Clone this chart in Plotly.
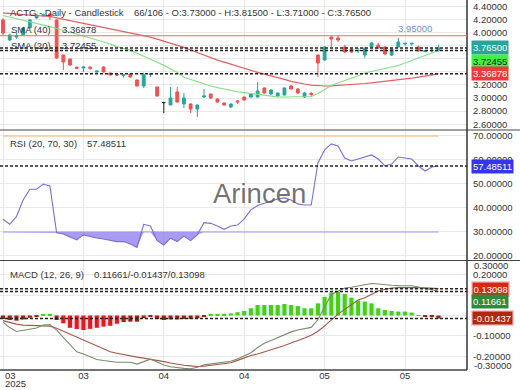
import plotly.graph_objects as go

# ---------------- data ----------------
idx = list(range(66))

opens = [4.191, 3.885, 3.93, 3.962, 4.069, 4.221, 4.26, 4.282, 4.191, 3.656,
         3.595, 3.47, 3.458, 3.47, 3.395, 3.473, 3.382, 3.366, 3.345, 3.366,
         3.275, 3.183, 3.36, 3.168, 2.93, 2.893, 3.092, 2.908, 2.908, 2.832,
         3.015, 3.061, 2.985, 2.924, 2.863, 2.955, 3.015, 3.015, 3.015, 3.153,
         3.061, 3.031, 3.046, 3.183, 3.137, 3.015, 3.07, 3.656, 3.58, 3.931,
         3.916, 3.779, 3.748, 3.72, 3.656, 3.779, 3.809, 3.779, 3.656, 3.779,
         3.825, 3.825, 3.779, 3.71, 3.72, 3.73]
highs = [4.22, 3.98, 4.0, 4.08, 4.20, 4.28, 4.29, 4.30, 4.20, 3.66,
         3.60, 3.48, 3.48, 3.49, 3.42, 3.48, 3.385, 3.37, 3.36, 3.37,
         3.28, 3.386, 3.382, 3.17, 2.93, 3.168, 3.168, 3.076, 2.92, 2.90,
         3.137, 3.07, 2.99, 2.93, 2.915, 2.97, 3.02, 3.076, 3.244, 3.16,
         3.13, 3.08, 3.16, 3.20, 3.15, 3.09, 3.09, 3.66, 3.79, 3.94,
         3.95, 3.81, 3.755, 3.763, 3.77, 3.855, 3.84, 3.79, 3.76, 3.916,
         3.84, 3.84, 3.80, 3.73, 3.78, 3.815]
lows = [3.96, 3.87, 3.90, 3.95, 4.06, 4.21, 4.24, 4.19, 3.60, 3.427,
        3.49, 3.44, 3.397, 3.43, 3.39, 3.39, 3.345, 3.345, 3.31, 3.31,
        3.18, 3.153, 3.321, 3.02, 2.77, 2.89, 2.93, 2.847, 2.771, 2.71,
        3.0, 2.99, 2.93, 2.885, 2.85, 2.91, 2.96, 3.0, 3.01, 3.07,
        3.05, 3.02, 3.04, 3.13, 3.07, 3.0, 3.02, 3.321, 3.57, 3.779,
        3.855, 3.687, 3.69, 3.687, 3.611, 3.77, 3.75, 3.66, 3.64, 3.77,
        3.80, 3.80, 3.71, 3.70, 3.70, 3.71]
closes = [3.992, 3.962, 3.95, 4.069, 4.191, 4.267, 4.27, 4.237, 3.611, 3.55,
          3.504, 3.455, 3.473, 3.455, 3.41, 3.397, 3.351, 3.351, 3.35, 3.321,
          3.183, 3.351, 3.37, 3.031, 2.93, 3.0, 2.939, 3.0, 2.832, 2.893,
          3.031, 3.0, 2.939, 2.893, 2.908, 2.94, 2.969, 3.061, 3.107, 3.076,
          3.122, 3.076, 3.153, 3.137, 3.076, 3.076, 3.055, 3.534, 3.779, 3.90,
          3.885, 3.702, 3.702, 3.725, 3.763, 3.84, 3.763, 3.672, 3.748, 3.855,
          3.835, 3.835, 3.718, 3.72, 3.73, 3.765]

sma20 = [4.26, 4.237, 4.214, 4.191, 4.168, 4.145, 4.115, 4.089, 4.061, 4.034,
         4.008, 3.977, 3.947, 3.916, 3.885, 3.855, 3.824, 3.782, 3.751, 3.731,
         3.684, 3.641, 3.595, 3.547, 3.498, 3.449, 3.389, 3.316, 3.282, 3.247,
         3.212, 3.183, 3.159, 3.136, 3.113, 3.095, 3.081, 3.067, 3.053, 3.038,
         3.029, 3.018, 3.015, 3.015, 3.015, 3.015, 3.023, 3.069, 3.13, 3.191,
         3.229, 3.264, 3.304, 3.339, 3.382, 3.402, 3.426, 3.449, 3.473, 3.497,
         3.535, 3.573, 3.611, 3.649, 3.687, 3.72455]
sma40 = [4.298, 4.287, 4.279, 4.273, 4.266, 4.258, 4.252, 4.244, 4.223, 4.202,
         4.18, 4.159, 4.137, 4.116, 4.095, 4.075, 4.055, 4.037, 4.017, 3.998,
         3.979, 3.959, 3.93, 3.899, 3.869, 3.837, 3.806, 3.773, 3.733, 3.693,
         3.653, 3.614, 3.579, 3.547, 3.515, 3.479, 3.453, 3.417, 3.391, 3.365,
         3.34, 3.315, 3.284, 3.253, 3.229, 3.214, 3.197, 3.189, 3.183, 3.186,
         3.191, 3.195, 3.2, 3.21, 3.221, 3.231, 3.241, 3.252, 3.263, 3.272,
         3.287, 3.302, 3.319, 3.336, 3.354, 3.36878]

rsi = [35.3, 33.2, 36.4, 43.3, 47.8, 47.8, 50.0, 49.2, 29.7, 29.2,
       27.9, 26.7, 28.8, 28.1, 27.5, 27.1, 26.5, 26.0, 26.0, 25.0,
       23.6, 33.2, 32.5, 26.4, 24.6, 27.4, 26.0, 28.3, 26.4, 28.8,
       33.9, 33.6, 32.5, 31.1, 32.5, 32.9, 35.5, 39.2, 41.0, 42.1,
       42.9, 43.75, 44.2, 43.3, 41.7, 41.25, 41.25, 58.75, 64.2, 66.7,
       65.8, 60.8, 59.6, 60.4, 61.25, 62.1, 60.4, 57.5, 58.3, 61.25,
       60.8, 60.4, 57.5, 55.4, 57.1, 57.48511]

macd = [-0.032, -0.059, -0.078, -0.073, -0.068, -0.061, -0.046, -0.044, -0.071, -0.107,
        -0.141, -0.177, -0.188, -0.200, -0.215, -0.220, -0.225, -0.228, -0.228, -0.228,
        -0.237, -0.224, -0.213, -0.227, -0.242, -0.250, -0.255, -0.258, -0.260, -0.253,
        -0.241, -0.237, -0.233, -0.228, -0.223, -0.212, -0.197, -0.182, -0.156, -0.136,
        -0.122, -0.109, -0.094, -0.080, -0.071, -0.065, -0.058, -0.021, 0.039, 0.103,
        0.118, 0.134, 0.138, 0.144, 0.150, 0.156, 0.154, 0.150, 0.148, 0.146,
        0.145, 0.145, 0.139, 0.131, 0.127, 0.11661]
signal = [-0.025, -0.034, -0.042, -0.047, -0.048, -0.049, -0.049, -0.052, -0.062, -0.076,
          -0.091, -0.105, -0.120, -0.134, -0.148, -0.162, -0.177, -0.184, -0.191, -0.198,
          -0.203, -0.208, -0.213, -0.219, -0.225, -0.232, -0.239, -0.243, -0.246, -0.249,
          -0.248, -0.244, -0.241, -0.236, -0.231, -0.219, -0.207, -0.195, -0.188, -0.178,
          -0.167, -0.157, -0.146, -0.134, -0.123, -0.110, -0.096, -0.077, -0.051, -0.021,
          0.007, 0.030, 0.053, 0.076, 0.087, 0.103, 0.120, 0.127, 0.134, 0.136,
          0.137, 0.137, 0.136, 0.135, 0.133, 0.13098]
hist = [-0.017, -0.022, -0.025, -0.019, -0.011, -0.005, 0.004, 0.006, -0.022, -0.038,
        -0.060, -0.066, -0.071, -0.065, -0.060, -0.054, -0.050, -0.040, -0.032, -0.030,
        -0.030, -0.013, -0.005, -0.017, -0.022, -0.019, -0.019, -0.017, -0.017, -0.014,
        -0.008, 0.005, 0.006, 0.008, 0.010, 0.016, 0.022, 0.035, 0.051, 0.051,
        0.051, 0.051, 0.056, 0.051, 0.046, 0.035, 0.035, 0.059, 0.091, 0.112,
        0.116, 0.105, 0.087, 0.073, 0.068, 0.059, 0.035, 0.027, 0.022, 0.019,
        0.019, 0.014, 0.002, -0.005, -0.008, -0.01437]

resistance_level = 3.95
rsi_levels = [70, 30]
rsi_params = "(20, 70, 30)"
macd_params = "(12, 26, 9)"

x_tick_idx = [0, 12, 24, 36, 48, 60]
x_tick_text = ["03", "03", "04", "04", "05", "05"]
first_year = "2025"
price_ticks = [2.6, 2.8, 3.0, 3.2, 3.4, 3.6, 3.8, 4.0, 4.2, 4.4]
rsi_ticks = [20, 30, 40, 50, 60, 70]
macd_ticks = [-0.2, -0.1, 0.0, 0.1, 0.2]
macd_edge_ticks = [0.3, -0.3]

symbol = "ACTG"
bar_no, bar_total = 66, 106

# ---------------- geometry ----------------
W, H = 520, 390
ML, MR, MT, MB = 0, 53, 0, 20
PW = W - ML - MR
PH = H - MT - MB
FONT = "Liberation Sans, Arial, sans-serif"
FS = 9.5
TXT = "#333333"
GRID = "#e8e8e8"
STRONG_NEG = -0.035


def px(x):
    return x / PW


def py(y):
    return (PH - y) / PH


PRICE_DOM = [py(130), 1.0]
RSI_DOM = [py(260), py(131)]
MACD_DOM = [0.0, py(261)]

fig = go.Figure()

# ---------------- price panel ----------------
normal = [i for i in idx if opens[i] != closes[i]]
flat = [i for i in idx if opens[i] == closes[i]]

fig.add_trace(go.Scatter(x=idx, y=sma40, mode="lines", line=dict(color="#e06262", width=1.2),
                         xaxis="x", yaxis="y", hoverinfo="skip"))
fig.add_trace(go.Scatter(x=idx, y=sma20, mode="lines", line=dict(color="#86e086", width=1.2),
                         xaxis="x", yaxis="y", hoverinfo="skip"))
fig.add_trace(go.Candlestick(
    x=[idx[i] for i in normal], open=[opens[i] for i in normal], high=[highs[i] for i in normal],
    low=[lows[i] for i in normal], close=[closes[i] for i in normal],
    increasing=dict(line=dict(color="#26a69a", width=1), fillcolor="#26a69a"),
    decreasing=dict(line=dict(color="#ef5350", width=1), fillcolor="#ef5350"),
    whiskerwidth=0, xaxis="x", yaxis="y"))
if flat:
    fig.add_trace(go.Candlestick(
        x=[idx[i] for i in flat], open=[opens[i] for i in flat], high=[highs[i] for i in flat],
        low=[lows[i] for i in flat], close=[closes[i] for i in flat],
        increasing=dict(line=dict(color="#222222", width=1), fillcolor="#222222"),
        decreasing=dict(line=dict(color="#222222", width=1), fillcolor="#222222"),
        whiskerwidth=0, xaxis="x", yaxis="y"))

# ---------------- RSI panel ----------------
rsi_low = [min(v, rsi_levels[1]) for v in rsi]
fig.add_trace(go.Scatter(x=idx, y=[rsi_levels[1]] * len(idx), mode="lines",
                         line=dict(color="#a294f2", width=1.2), xaxis="x2", yaxis="y2", hoverinfo="skip"))
fig.add_trace(go.Scatter(x=idx, y=rsi_low, mode="lines", line=dict(width=0), fill="tonexty",
                         fillcolor="rgba(140,120,238,0.75)", xaxis="x2", yaxis="y2", hoverinfo="skip"))
fig.add_trace(go.Scatter(x=idx, y=[rsi_levels[0]] * len(idx), mode="lines",
                         line=dict(color="#f8c9a0", width=1.5), xaxis="x2", yaxis="y2", hoverinfo="skip"))
fig.add_trace(go.Scatter(x=idx, y=rsi, mode="lines", line=dict(color="#7a6fd4", width=1.1),
                         xaxis="x2", yaxis="y2", hoverinfo="skip"))

# ---------------- MACD panel ----------------
front_cols, back_cols = [], []
for v in hist:
    if v >= 0:
        front_cols.append("#4fcc0a")
        back_cols.append("#c9fbf3")
    else:
        front_cols.append("#e01b1b" if v < STRONG_NEG else "#8e2a10")
        back_cols.append("#ffd3e3")
fig.add_trace(go.Bar(x=idx, y=hist, width=1.0, marker=dict(color=back_cols, line=dict(width=0)),
                     xaxis="x3", yaxis="y3", hoverinfo="skip"))
fig.add_trace(go.Bar(x=idx, y=hist, width=0.6, marker=dict(color=front_cols, line=dict(width=0)),
                     xaxis="x3", yaxis="y3", hoverinfo="skip"))
fig.add_trace(go.Scatter(x=idx, y=signal, mode="lines", line=dict(color="#a3584a", width=1.1),
                         xaxis="x3", yaxis="y3", hoverinfo="skip"))
fig.add_trace(go.Scatter(x=idx, y=macd, mode="lines", line=dict(color="#7b8a6c", width=1.1),
                         xaxis="x3", yaxis="y3", hoverinfo="skip"))

# ---------------- axes ----------------
xr = [-0.45, 69.25]
xcommon = dict(range=xr, showgrid=True, gridcolor=GRID, gridwidth=1, zeroline=False,
               tickmode="array", tickvals=x_tick_idx, showline=False, fixedrange=True)
ycommon = dict(side="right", showgrid=True, gridcolor=GRID, zeroline=False, ticks="",
               tickfont=dict(family=FONT, size=FS, color=TXT), showline=False, ticklabelstandoff=5)

fig.update_layout(
    width=W, height=H, margin=dict(l=ML, r=MR, t=MT, b=MB),
    paper_bgcolor="white", plot_bgcolor="white", showlegend=False,
    barmode="overlay", boxgap=0.4, font=dict(family=FONT, size=FS, color=TXT),
    xaxis=dict(anchor="y", showticklabels=False, rangeslider=dict(visible=False), **xcommon),
    xaxis2=dict(anchor="y2", matches="x", showticklabels=False, **xcommon),
    xaxis3=dict(anchor="y3", matches="x", showticklabels=True,
                ticktext=[""] + x_tick_text[1:], ticks="", ticklabelstandoff=-2,
                tickfont=dict(family=FONT, size=FS, color=TXT), **xcommon),
    yaxis=dict(anchor="x", domain=PRICE_DOM, range=[2.5115, 4.496], tickvals=price_ticks,
               ticktext=[f"{v:.5f}" for v in price_ticks], **ycommon),
    yaxis2=dict(anchor="x2", domain=RSI_DOM, range=[18.33, 72.08], tickvals=rsi_ticks,
                ticktext=[f"{v:.5f}" for v in rsi_ticks], **ycommon),
    yaxis3=dict(anchor="x3", domain=MACD_DOM, range=[-0.266, 0.266], tickvals=macd_ticks,
                ticktext=["0" if v == 0 else f"{v:.5f}" for v in macd_ticks], **ycommon),
)

shapes = []
# separators and frame
for yy in (py(130), py(260.5)):
    shapes.append(dict(type="line", xref="paper", yref="paper", x0=0, x1=W / PW, y0=yy, y1=yy,
                       line=dict(color="#444444", width=1)))
shapes.append(dict(type="line", xref="paper", yref="paper", x0=0, x1=1, y0=0, y1=0,
                   line=dict(color="#444444", width=1.5)))
shapes.append(dict(type="line", xref="paper", yref="paper", x0=1, x1=1, y0=0, y1=1,
                   line=dict(color="#333333", width=1.5)))
# resistance line
shapes.append(dict(type="line", xref="x domain", yref="y", x0=0, x1=1,
                   y0=resistance_level, y1=resistance_level, line=dict(color="#e07070", width=1.2)))
# dotted value lines
dot = dict(color="#222222", width=1.5, dash="3px,2px")
for axx, axy, val in (("x", "y", closes[-1]), ("x", "y", sma20[-1]), ("x", "y", sma40[-1]),
                      ("x2", "y2", rsi[-1]),
                      ("x3", "y3", signal[-1]), ("x3", "y3", macd[-1]), ("x3", "y3", hist[-1])):
    shapes.append(dict(type="line", xref=f"{axx} domain", yref=axy, x0=0, x1=1, y0=val, y1=val,
                       line=dot, layer="above"))
fig.update_layout(shapes=shapes)

ann = []


def label(text, x, y, size=FS, color=TXT, xanchor="left", **kw):
    ann.append(dict(text=text, x=x, y=y, xref="paper", yref="paper", showarrow=False,
                    xanchor=xanchor, yanchor="middle", font=dict(family=FONT, size=size, color=color), **kw))


last = len(idx) - 1
label(f"{symbol} - Daily - Candlestick", px(8), py(12.5))
label(f"{bar_no}/{bar_total} - O:{opens[last]:.5f} - H:{highs[last]:.5f} - "
      f"L:{lows[last]:.5f} - C:{closes[last]:.5f}", px(132), py(12.5))
label("SMA (40)", px(9), py(29.5))
label(f"{sma40[last]:.5f}", px(60), py(29.5))
label("SMA (20)", px(9), py(45.5))
label(f"{sma20[last]:.5f}", px(60), py(45.5))
label(f"RSI {rsi_params}", px(8), py(143.5))
label(f"{rsi[last]:.5f}", px(85), py(143.5))
label(f"MACD {macd_params}", px(8), py(274))
label(f"{macd[last]:.5f}/{hist[last]:.5f}/{signal[last]:.5f}", px(92), py(274))
# watermark
label("Arincen", px(259), py(193), size=27.5, color="rgba(90,90,90,0.85)", xanchor="center")
# first date label (month + year)
label(x_tick_text[0], px(3), py(375.5))
label(first_year, px(3), py(383.5))
# MACD edge tick labels
label(f"{macd_edge_ticks[0]:.5f}", 1, py(265.5), xshift=5)
label(f"{macd_edge_ticks[1]:.5f}", 1, py(365.5), xshift=5)

# resistance level text
ann.append(dict(text=f"{resistance_level:.5f}", x=61.5, y=resistance_level, xref="x", yref="y",
                showarrow=False, yshift=7, font=dict(family=FONT, size=FS, color="#6f8fd6")))


def tag(text, axy, val, bg, fg="white", yshift=0, border=None):
    d = dict(text=text, x=1, y=val, xref="paper", yref=axy, showarrow=False, xanchor="left",
             yanchor="middle", xshift=4, yshift=yshift, bgcolor=bg, borderpad=1, height=11,
             font=dict(family=FONT, size=FS, color=fg))
    if border:
        d.update(bordercolor=border, borderwidth=1.5)
    ann.append(d)


tag(f"{closes[last]:.5f}", "y", closes[last], "#26a69a")
tag(f"{sma20[last]:.5f}", "y", sma20[last], "#45ee45", fg="#1a1a1a", yshift=-11)
tag(f"{sma40[last]:.5f}", "y", sma40[last], "#ee3a3a")
tag(f"{rsi[last]:.5f}", "y2", rsi[last], "#3535ee")
tag(f"{signal[last]:.5f}", "y3", signal[last], "#d42a10", border="#ffc4da")
tag(f"{macd[last]:.5f}", "y3", macd[last], "#2f8a3c", yshift=-10)
tag(f"{hist[last]:.5f}", "y3", hist[last], "#b02a08", border="#ffc4da")

fig.update_layout(annotations=ann)

fig.write_html("out.html", config={"displayModeBar": False},
               post_script="document.body.style.margin='0';document.body.style.padding='0';")
